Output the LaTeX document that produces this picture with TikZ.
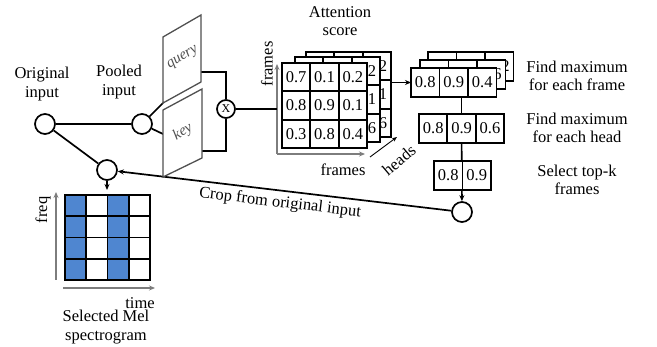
\documentclass[tikz,border=0pt]{standalone}
\usepackage{fontspec}
\setmainfont{Liberation Serif}
\usetikzlibrary{arrows.meta}
\definecolor{specblue}{RGB}{79,134,208}
\definecolor{panegray}{RGB}{80,80,80}
\definecolor{axisgray}{RGB}{125,125,125}
\newcommand{\gridlayer}[6]{%
  \foreach \r [count=\i from 0] in {#6} {%
    \foreach \v [count=\j from 0] in \r {%
      \node[cell, minimum width=#4pt, minimum height=#5pt] (#1-\i-\j) at ({#2+\j*#4},{#3+\i*#5}) {\v};
    }
  }%
}
\begin{document}
\begin{tikzpicture}[x=1pt,y=-1pt,
  lbl/.style={font=\fontsize{16.5}{18.7}\selectfont, align=center, inner sep=0},
  cell/.style={draw, line width=1.9pt, fill=white, inner sep=0, outer sep=0, anchor=north west,
    font=\fontsize{16.5}{18}\selectfont},
  dot/.style={circle, draw, line width=1.7pt, minimum size=20pt, inner sep=0, fill=white},
  wire/.style={line width=1.7pt},
  tip/.style={-{Stealth[length=6pt,width=5pt]}},
  axis/.style={draw=axisgray, line width=1.3pt, -{Stealth[length=6pt,width=5pt]}},
  pane/.style={draw=panegray, line width=1.3pt, fill=white},
  panelbl/.style={font=\itshape\fontsize{15}{17}\selectfont, text=panegray, inner sep=0}]
\useasboundingbox (0,0) rectangle (657,347);

% ---- input circles
\node[dot] (orig) at (45,124) {};
\node[dot] (pooled) at (142,124) {};
\node[dot] (crop) at (107,170) {};
\node[dot, minimum size=18pt, font=\fontsize{12}{14}\selectfont] (xmul) at (226,109) {X};
\node[dot] (sel) at (462,212) {};

\node[lbl] (origlbl) at (42,84) {Original\\input};
\node[lbl] (poollbl) at (119,82) {Pooled\\input};

% ---- query / key panes
\coordinate (qbl) at (163,103);
\coordinate (kin) at (163,134);
\coordinate (qout) at (201,72);
\coordinate (kout) at (202,151);
\draw[wire] (orig) -- (pooled);
\draw[wire] (orig) -- (crop);
\draw[wire] (pooled) -- (qbl);
\draw[wire] (pooled) -- (kin);
\draw[wire] (qout) -| (xmul);
\draw[wire] (kout) -| (xmul);

% crop connector
\draw[wire, tip] (sel) -- (crop);
\node[lbl, rotate=-6.8] (croplbl) at (280,203) {Crop from original input};

\draw[pane] (163,37) -- (201,15) -- (201,82) -- (qbl) -- cycle;
\draw[pane] (163,110) -- (202,89) -- (202,158) -- (163,177) -- cycle;
\node[panelbl, rotate=32] (qlbl) at (183,58) {query};
\node[panelbl, rotate=32] (klbl) at (183,132) {key};

% ---- attention score
\coordinate (axo) at (277,154);
\draw[axis] (axo) -- (277,64);
\draw[axis] (axo) -- (365,154);
\draw[wire] (xmul) -- (xmul -| axo);
\node[lbl, rotate=90] (frv) at (267,64) {frames};
\node[lbl] (frh) at (343,170) {frames};
\node[lbl] (attlbl) at (340,21) {Attention\\score};

\gridlayer{mC}{306}{52}{28.33}{28.33}{{,,0.2},{,,0.1},{,,0.6}}
\gridlayer{mB}{295}{57}{28.33}{28.33}{{,,0.2},{,,0.1},{,,0.6}}
\gridlayer{mA}{282}{63}{28.33}{28.33}{{0.7,0.1,0.2},{0.8,0.9,0.1},{0.3,0.8,0.4}}

\coordinate (hs) at (370,157);
\coordinate (he) at (397,137);
\draw[line width=0.9pt, -{Stealth[length=5pt,width=4pt]}] (hs) -- (he);
\node[lbl, rotate=40] (headlbl) at (399,160) {heads};

% ---- find maximum
\gridlayer{fC}{428}{52}{28.5}{29}{{,,0.2}}
\gridlayer{fB}{420}{60}{28.5}{29}{{,,0.6}}
\gridlayer{fa}{411}{68}{28.5}{29}{{0.8,0.9,0.4}}
\draw[wire, tip] (fa-0-0.west -| mC-1-2.east) -- (fa-0-0.west);

\gridlayer{fb}{419}{114}{28.4}{29}{{0.8,0.9,0.6}}
\draw[wire] (fb-0-1.north) -- (fb-0-1.north |- fa-0-1.south);
\draw[wire, tip] (fb-0-1.south) -- (sel);
\gridlayer{fc}{434}{161}{28.5}{29}{{0.8,0.9}}

\node[lbl] (t1) at (577,76) {Find maximum\\for each frame};
\node[lbl] (t2) at (577,128) {Find maximum\\for each head};
\node[lbl] (t3) at (577,180) {Select top-k\\frames};

% ---- spectrogram
\draw[wire, tip] (crop) -- (107,190) coordinate (specin);
\foreach \i in {0,...,3} {
  \foreach \j/\f in {0/specblue,1/white,2/specblue,3/white} {
    \node[cell, fill=\f, minimum width=21.25pt, minimum height=21.25pt] (s-\i-\j) at ({65+\j*21.25},{195+\i*21.25}) {};
  }
}
\draw[axis] (56,280) -- (56,192);
\draw[axis] (63,288) -- (155,288);
\node[lbl, rotate=90] (freqlbl) at (43,210) {freq};
\node[lbl] (timelbl) at (140,303) {time};
\node[lbl] (speclbl) at (106,327) {Selected Mel\\spectrogram};
\end{tikzpicture}
\end{document}
